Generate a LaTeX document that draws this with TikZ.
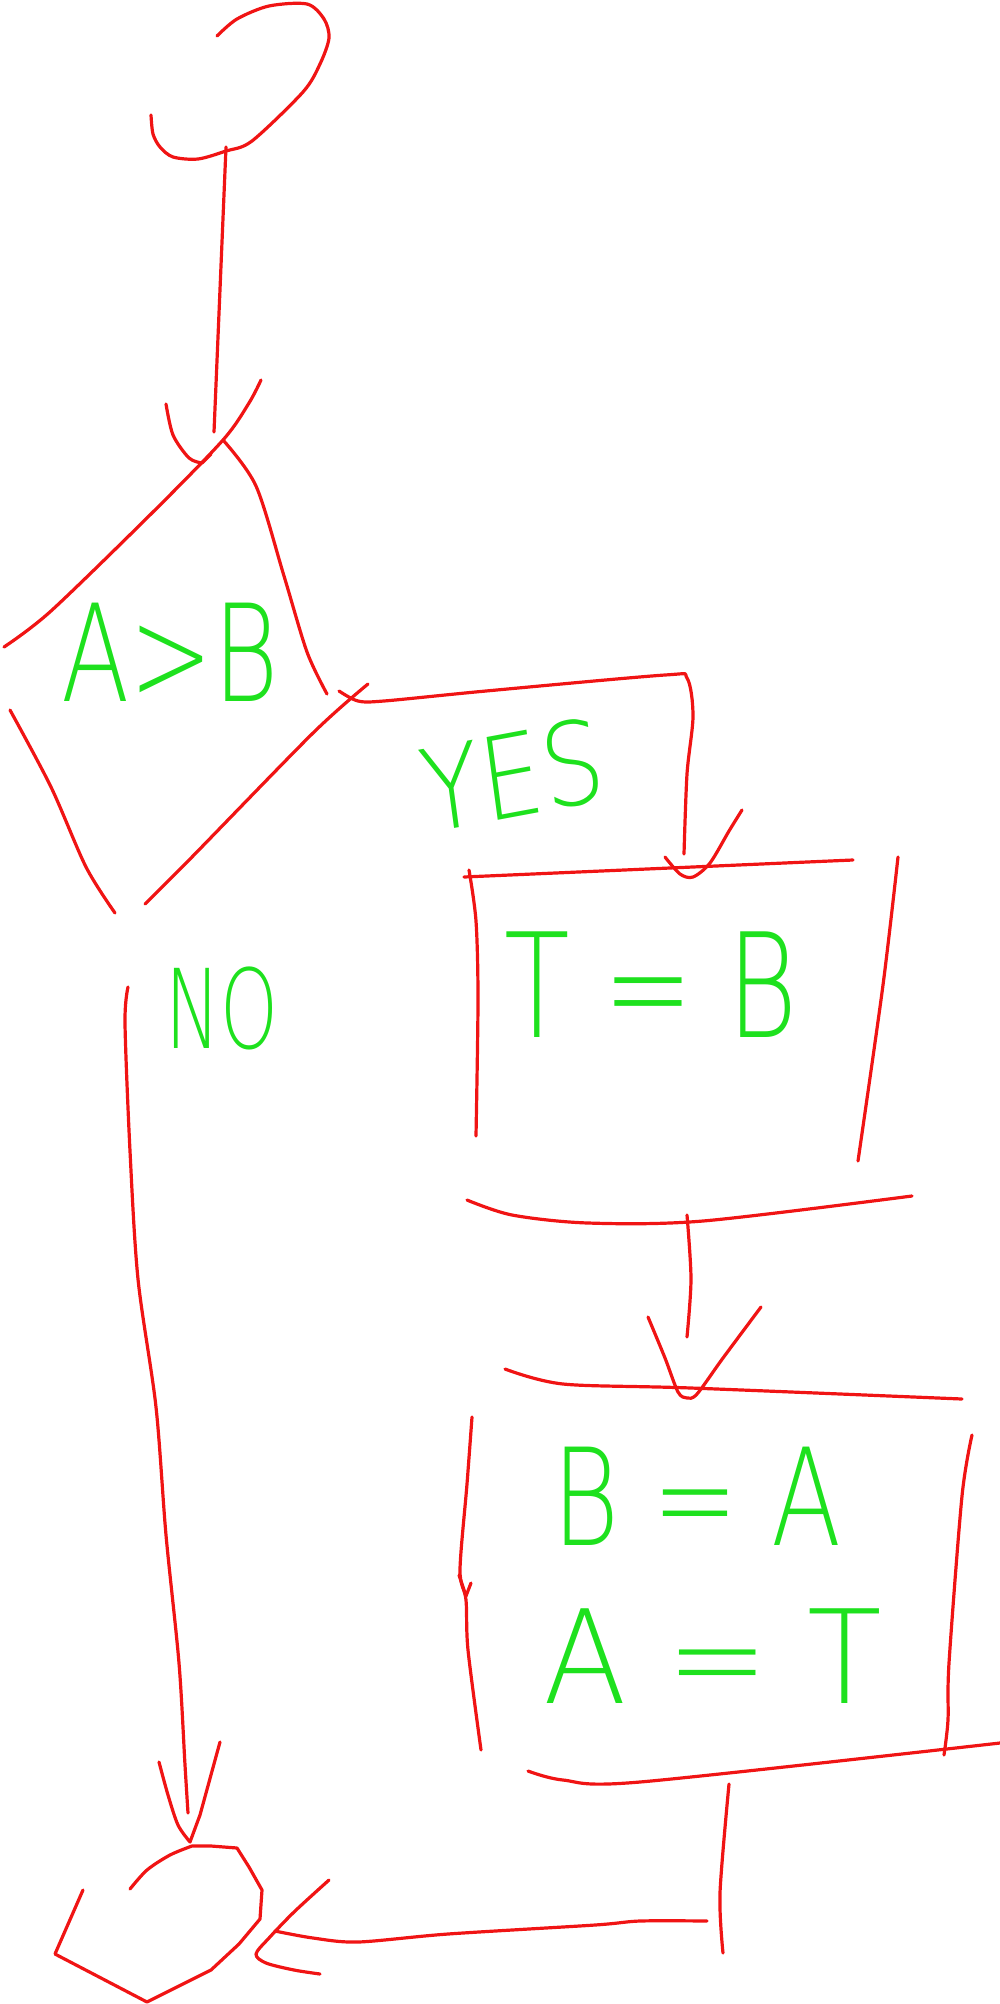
\documentclass[tikz,border=0pt]{standalone}
\usepackage{fontspec}
\newfontfamily\hand{DejaVu Sans ExtraLight}
\definecolor{pen}{RGB}{240,20,20}
\definecolor{chalk}{RGB}{30,225,30}

\begin{document}
\begin{tikzpicture}[x=1pt,y=-1pt,
  ink/.style={draw=pen,line width=3.2pt,line cap=round,line join=round},
  hand/.style={text=chalk,inner sep=0pt,font=\hand\fontsize{#1}{#1}\selectfont},
  hand/.default=130]
    \useasboundingbox (0,0) rectangle (1000,2004);
    % Texts
    \node[hand=135,xscale=.74] (cond) at (170,652) {A>B};
    \node[hand=115,xscale=.85,rotate=9] (yes) at (513,775) {YES};
    \node[hand=110,xscale=.67] (no) at (222,1008) {NO};
    \node[hand=145,xscale=.74] (tb) at (651,985) {T = B};
    \node[hand=135,xscale=.76] (ba) at (697,1496) {B = A};
    \node[hand=130,xscale=.94] (at) at (713,1656) {A = T};
    % Start and end
    \draw[ink] plot[smooth] coordinates {(217,36) (237,19) (269,6) (307,4) (324,19) (329,38)
      (320,64) (303,92) (252,141) (226,151) (198,159) (173,157) (160,147) (153,134) (151,115)};
    \draw[ink] plot[smooth] coordinates {(130,1889) (147,1870) (170,1855) (192,1846)}
      -- (211,1846) -- (237,1848) -- (249,1867) -- (262,1890) -- (260,1919)
      -- (239,1944) -- (211,1970) -- (147,2002) -- (55,1954) -- (83,1890);
    % Decision
    \coordinate (cond-top) at (223,440);
    \draw[ink] plot[smooth] coordinates {(261,380) (249,403) (cond-top) (153,512) (51,611) (4,647)};
    \draw[ink] plot[smooth] coordinates {(cond-top) (256,486) (284,576) (307,652) (327,694)};
    \draw[ink] plot[smooth] coordinates {(10,710) (51,787) (86,867) (115,913)};
    \draw[ink] plot[smooth] coordinates {(145,904) (192,857) (313,733) (368,684)};
    % Boxes
    \draw[ink] (464,877) -- (853,860);
    \draw[ink] plot[smooth] coordinates {(469,870) (476,921) (478,1000) (476,1136)};
    \draw[ink] plot[smooth] coordinates {(898,857) (883,985) (858,1161)};
    \draw[ink] plot[smooth] coordinates {(467,1200) (512,1215) (588,1223) (703,1221) (912,1196)};
    \draw[ink] plot[smooth] coordinates {(505,1369) (563,1384) (691,1388) (962,1399)};
    \draw[ink] plot[smooth] coordinates {(472,1417) (467,1484) (460,1570) (466,1600) (468,1650) (481,1750)};
    \draw[ink] (459,1575) -- (466,1596) -- (471,1583);
    \draw[ink] plot[smooth] coordinates {(972,1435) (962,1496) (949,1663) (948,1720) (944,1755)};
    \draw[ink] plot[smooth] coordinates {(528,1771) (563,1780) (640,1782) (1000,1743)};
    % Connectors
    \draw[ink] (226,147) -- (214,432);
    \draw[ink] plot[smooth] coordinates {(166,404) (173,435) (189,458) (202,463)} -- (211,454);
    \draw[ink] plot[smooth] coordinates {(339,691) (358,701) (384,701) (486,691) (665,675)
      (687,678) (693,716) (687,774) (684,854)};
    \draw[ink] plot[smooth] coordinates {(665,857) (680,874) (693,877) (710,863) (729,831) (742,810)};
    \draw[ink] plot[smooth] coordinates {(687,1215) (691,1279) (687,1337)};
    \draw[ink] plot[smooth] coordinates {(648,1317) (665,1358) (678,1392) (687,1398) (697,1394)
      (723,1358) (761,1307)};
    \draw[ink] plot[smooth] coordinates {(729,1784) (720,1893) (723,1953)};
    \draw[ink] plot[smooth] coordinates {(707,1921) (640,1921) (595,1925) (448,1934) (358,1942)
      (313,1938) (275,1931)};
    \draw[ink] plot[smooth] coordinates {(329,1880) (294,1912) (269,1938) (256,1954) (266,1963)
      (294,1970) (320,1974)};
    \draw[ink] plot[smooth] coordinates {(128,987) (125,1023) (130,1151) (138,1279) (156,1407)
      (166,1535) (179,1663) (185,1765) (188,1813)};
    \draw[ink] plot[smooth] coordinates {(159,1762) (168,1795) (178,1825) (190,1842)}
      -- (200,1815) -- (220,1742);
\end{tikzpicture}
\end{document}
